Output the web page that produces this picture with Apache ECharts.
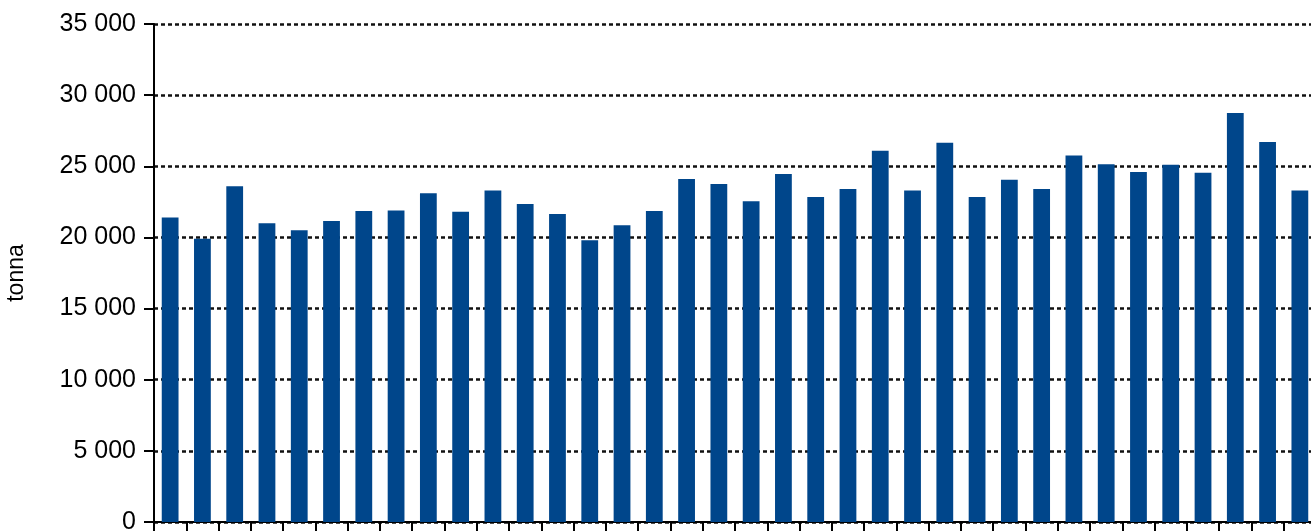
<!DOCTYPE html>
<html>
<head>
<meta charset="utf-8">
<script src="https://cdn.jsdelivr.net/npm/echarts@6/dist/echarts.min.js"></script>
<style>
html,body{margin:0;padding:0;background:#fff;}
#chart{width:1311px;height:531px;}
</style>
</head>
<body>
<div id="chart"></div>
<script>
const categories = ["1","2","3","4","5","6","7","8","9","10","11","12","13","14","15","16","17","18","19","20","21","22","23","24","25","26","27","28","29","30","31","32","33","34","35","36"];
const values = [21400,19900,23600,21000,20500,21150,21850,21900,23100,21800,23300,22350,21650,19800,20850,21850,24100,23750,22550,24450,22850,23400,26100,23300,26650,22850,24050,23400,25750,25150,24600,25100,24550,28750,26700,23300];
const yAxisName = "tonna";

const fmt = v => String(v).replace(/\B(?=(\d{3})+(?!\d))/g, " ");

const chart = echarts.init(document.getElementById('chart'));
chart.setOption({
  animation: false,
  backgroundColor: '#ffffff',
  grid: {left: 154, top: 24, right: -5, bottom: 9, containLabel: false, outerBoundsMode: 'none'},
  xAxis: {
    type: 'category',
    data: categories,
    axisLine: {show: true, lineStyle: {color: '#000', width: 2}},
    axisTick: {show: true, length: 10, lineStyle: {color: '#000', width: 2}},
    axisLabel: {show: false}
  },
  yAxis: {
    type: 'value',
    min: 0, max: 35000, interval: 5000,
    name: yAxisName,
    nameLocation: 'middle',
    nameRotate: 90,
    nameGap: 126,
    nameTextStyle: {fontFamily: 'Liberation Sans', fontSize: 23, color: '#000'},
    axisLine: {show: true, lineStyle: {color: '#000', width: 2}},
    axisTick: {show: true, length: 10, lineStyle: {color: '#000', width: 2}},
    axisLabel: {fontFamily: 'Liberation Sans', fontSize: 25, color: '#000', margin: 18, formatter: fmt},
    splitLine: {show: true, lineStyle: {color: '#111', width: 2.5, type: [4, 3]}}
  },
  series: [{
    type: 'bar',
    data: values,
    barCategoryGap: '48%',
    itemStyle: {color: '#00468B'}
  }]
});
</script>
</body>
</html>
